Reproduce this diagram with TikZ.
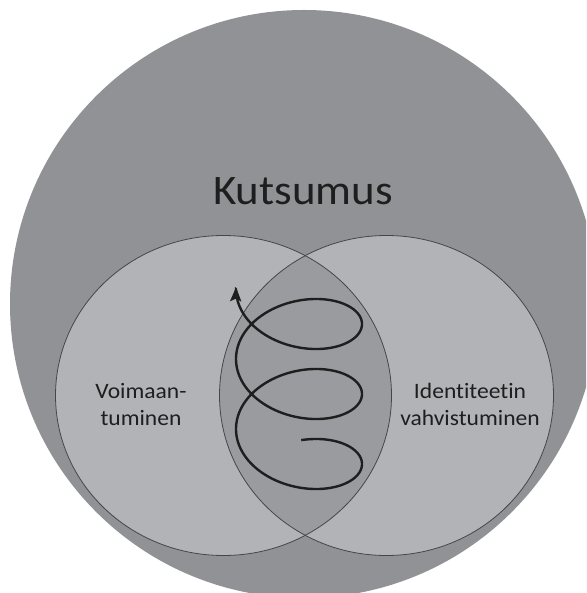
\documentclass[tikz,border=0pt]{standalone}
\usepackage{fontspec}
\setmainfont{Carlito}
\newfontfamily\labelfont[FakeStretch=1.07,Ligatures=CommonOff]{Carlito}
\usetikzlibrary{arrows.meta}
\definecolor{outergray}{HTML}{919295}
\definecolor{setgray}{HTML}{B2B3B7}
\definecolor{lensgray}{HTML}{9A9B9E}
\definecolor{rimgray}{HTML}{45464A}
\definecolor{inkgray}{HTML}{1E1E1F}
\tikzset{
  setrim/.style={draw=rimgray, line width=0.8pt},
  bigtitle/.style={font=\labelfont\fontsize{42}{48}\selectfont, text=inkgray, inner sep=0pt, anchor=base},
  setlabel/.style={font=\labelfont\fontsize{22}{27}\selectfont, text=inkgray, inner sep=0pt, align=center, anchor=base},
  spiralline/.style={draw=inkgray, line width=2.4pt, -{Stealth[length=14pt,width=11pt,inset=2.5pt]}}
}
\begin{document}
\begin{tikzpicture}[x=1pt,y=1pt]
\useasboundingbox (0,0) rectangle (586,-593);
\clip (0,0) rectangle (586,-593);
% outer circle
\fill[outergray] (304,-304) circle[radius=294];
% the two overlapping sets
\fill[setgray] (223.5,-395.5) ellipse[x radius=168, y radius=160];
\fill[setgray] (386.5,-395.5) ellipse[x radius=167, y radius=160];
% overlap
\begin{scope}
  \clip (223.5,-395.5) ellipse[x radius=168, y radius=160];
  \fill[lensgray] (386.5,-395.5) ellipse[x radius=167, y radius=160];
\end{scope}
\draw[setrim] (223.5,-395.5) ellipse[x radius=168, y radius=160];
\draw[setrim] (386.5,-395.5) ellipse[x radius=167, y radius=160];
% rising spiral: 70pt pitch per turn
\draw[spiralline] plot[domain=-88:902, samples=400, smooth]
  ({299+63*cos(\x)}, {-464+0.194444*\x-41*sin(\x)});
% labels (base anchor sits on the last line)
\node[bigtitle] (title) at (303,-205) {Kutsumus};
\node[setlabel] (left) at (141,-425) {Voimaan-\\tuminen};
\node[setlabel] (right) at (470,-425) {Identiteetin\\vahvistuminen};
\end{tikzpicture}
\end{document}
